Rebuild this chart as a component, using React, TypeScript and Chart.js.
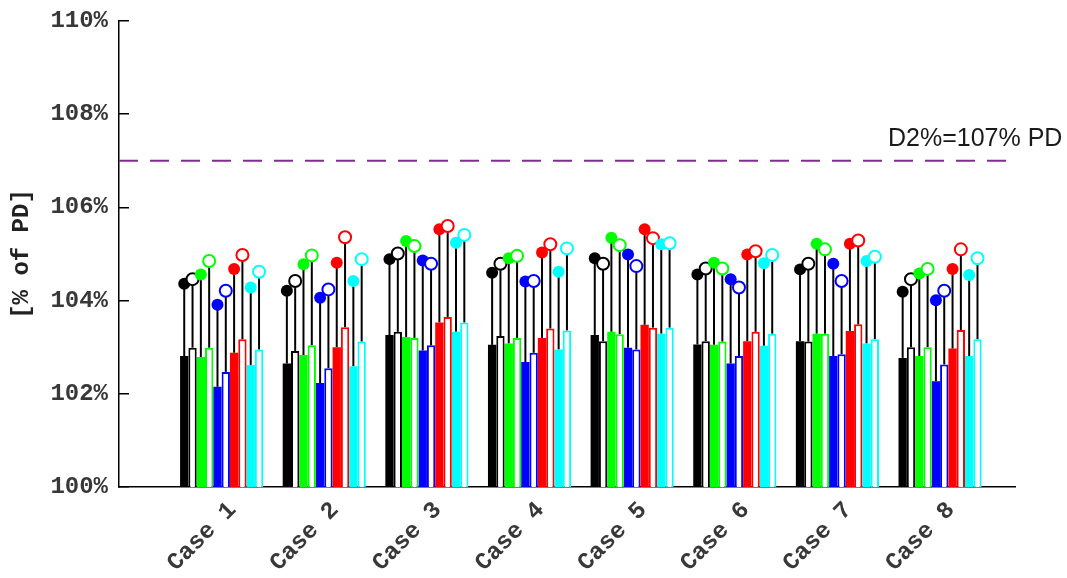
import React, { useEffect, useRef } from 'react';
import { Chart, registerables } from 'chart.js';

Chart.register(...registerables);

// ---------- data ----------
const caseLabels = ['Case 1', 'Case 2', 'Case 3', 'Case 4', 'Case 5', 'Case 6', 'Case 7', 'Case 8'];
const casePositions = [1, 2, 3, 4, 5, 6, 7, 8];
const xAxisMin = 0;
const xAxisMax = 8.73;
const yAxisMin = 100;
const yAxisMax = 110;
const yTickStep = 2;

const thresholdValue = 107;
const thresholdLabel = 'D2%=107% PD';

// bar heights (% of PD)
const blackSolidBar = [102.81, 102.65, 103.26, 103.05, 103.26, 103.06, 103.13, 102.77];
const blackOpenBar = [102.99, 102.92, 103.33, 103.24, 103.13, 103.13, 103.12, 103.0];
const greenSolidBar = [102.79, 102.83, 103.22, 103.08, 103.33, 103.05, 103.29, 102.81];
const greenOpenBar = [102.99, 103.04, 103.2, 103.2, 103.28, 103.12, 103.29, 103.0];
const blueSolidBar = [102.15, 102.23, 102.93, 102.68, 102.99, 102.65, 102.81, 102.27];
const blueOpenBar = [102.47, 102.55, 103.04, 102.88, 102.95, 102.81, 102.85, 102.63];
const redSolidBar = [102.88, 103.0, 103.53, 103.2, 103.48, 103.13, 103.35, 102.97];
const redOpenBar = [103.17, 103.43, 103.65, 103.4, 103.42, 103.33, 103.49, 103.37];
const cyanSolidBar = [102.62, 102.59, 103.33, 102.95, 103.29, 103.03, 103.08, 102.81];
const cyanOpenBar = [102.95, 103.12, 103.53, 103.36, 103.42, 103.29, 103.17, 103.17];

// maxima (circle markers)
const blackSolidMax = [104.36, 104.21, 104.89, 104.6, 104.91, 104.56, 104.67, 104.19];
const blackOpenMax = [104.46, 104.42, 105.01, 104.79, 104.79, 104.69, 104.79, 104.46];
const greenSolidMax = [104.56, 104.78, 105.28, 104.91, 105.35, 104.81, 105.22, 104.58];
const greenOpenMax = [104.85, 104.97, 105.17, 104.96, 105.19, 104.69, 105.1, 104.68];
const blueSolidMax = [103.91, 104.06, 104.86, 104.41, 104.99, 104.46, 104.79, 104.01];
const blueOpenMax = [104.21, 104.24, 104.79, 104.42, 104.74, 104.28, 104.42, 104.21];
const redSolidMax = [104.68, 104.81, 105.53, 105.03, 105.53, 104.99, 105.22, 104.68];
const redOpenMax = [104.98, 105.36, 105.6, 105.21, 105.34, 105.06, 105.29, 105.1];
const cyanSolidMax = [104.28, 104.42, 105.24, 104.62, 105.21, 104.8, 104.85, 104.55];
const cyanOpenMax = [104.62, 104.89, 105.41, 105.12, 105.23, 104.98, 104.94, 104.91];

const barSeries = [
  blackSolidBar, blackOpenBar, greenSolidBar, greenOpenBar, blueSolidBar,
  blueOpenBar, redSolidBar, redOpenBar, cyanSolidBar, cyanOpenBar,
];
const maxSeries = [
  blackSolidMax, blackOpenMax, greenSolidMax, greenOpenMax, blueSolidMax,
  blueOpenMax, redSolidMax, redOpenMax, cyanSolidMax, cyanOpenMax,
];

// ---------- styles ----------
const seriesColors = [
  '#000000', '#000000', '#00ff00', '#00ff00', '#0000ff',
  '#0000ff', '#ff0000', '#ff0000', '#00ffff', '#00ffff',
];
const seriesFilled = [true, false, true, false, true, false, true, false, true, false];

const TEXT_COLOR = '#383838';
const MONO = '"Liberation Mono", "DejaVu Sans Mono", monospace';
const CAT_PCT = 0.81;
const N = barSeries.length;

const markerPlugin = {
  id: 'maxMarkers',
  afterDatasetsDraw(chart: any) {
    const ctx = chart.ctx;
    const yScale = chart.scales.y;
    ctx.save();
    for (let si = 0; si < N; si++) {
      const meta = chart.getDatasetMeta(N + si);
      meta.data.forEach((el: any, i: number) => {
        const px = el.x;
        const py = yScale.getPixelForValue(maxSeries[si][i]);
        ctx.beginPath();
        ctx.arc(px, py, 6, 0, Math.PI * 2);
        if (seriesFilled[si]) {
          ctx.fillStyle = seriesColors[si];
          ctx.fill();
        } else {
          ctx.fillStyle = '#ffffff';
          ctx.fill();
          ctx.lineWidth = 2;
          ctx.strokeStyle = seriesColors[si];
          ctx.stroke();
        }
      });
    }
    ctx.restore();
  },
};

const labelPlugin = {
  id: 'thresholdText',
  afterDraw(chart: any) {
    const ctx = chart.ctx;
    const yScale = chart.scales.y;
    const area = chart.chartArea;
    ctx.save();
    ctx.font = '25px "Liberation Sans", Arial, sans-serif';
    ctx.fillStyle = '#1a1a1a';
    ctx.textAlign = 'left';
    ctx.textBaseline = 'alphabetic';
    ctx.fillText(thresholdLabel, area.right - 127, yScale.getPixelForValue(thresholdValue) - 15);
    ctx.restore();
  },
};

export default function App() {
  const canvasRef = useRef<HTMLCanvasElement | null>(null);

  useEffect(() => {
    if (!canvasRef.current) return;

    const barDatasets = barSeries.map((vals, si) => ({
      type: 'bar' as const,
      label: 'bar' + si,
      data: vals.map((v, i) => ({ x: casePositions[i], y: v })),
      backgroundColor: seriesFilled[si] ? seriesColors[si] : '#ffffff',
      borderColor: seriesColors[si],
      borderWidth: seriesFilled[si] ? 0 : 2,
      stack: 's' + si,
      barPercentage: 1,
      categoryPercentage: CAT_PCT,
    }));

    const stemDatasets = barSeries.map((vals, si) => ({
      type: 'bar' as const,
      label: 'stem' + si,
      data: vals.map((v, i) => ({ x: casePositions[i], y: [v, maxSeries[si][i]] })),
      backgroundColor: '#000000',
      borderWidth: 0,
      stack: 's' + si,
      barPercentage: 0.24,
      categoryPercentage: CAT_PCT,
    }));

    const thresholdDataset = {
      type: 'line' as const,
      label: 'threshold',
      data: [
        { x: xAxisMin, y: thresholdValue },
        { x: xAxisMax, y: thresholdValue },
      ],
      borderColor: '#7e2f8e',
      borderWidth: 2,
      borderDash: [19, 12],
      pointRadius: 0,
      fill: false,
    };

    const chart = new Chart(canvasRef.current, {
      type: 'bar',
      data: { datasets: [...barDatasets, ...stemDatasets, thresholdDataset] as any },
      options: {
        responsive: false,
        animation: false,
        devicePixelRatio: 1,
        layout: { padding: { top: 21, right: 52, bottom: 0, left: 0 } },
        plugins: {
          legend: { display: false },
          tooltip: { enabled: false },
        },
        scales: {
          x: {
            type: 'linear',
            min: xAxisMin,
            max: xAxisMax,
            offset: false,
            grid: { display: false, drawTicks: false },
            border: { display: true, color: '#000000', width: 1.5 },
            afterBuildTicks: (axis: any) => {
              axis.ticks = casePositions.map((v) => ({ value: v }));
            },
            afterFit: (axis: any) => {
              axis.height = 91;
              axis.paddingLeft = 0;
              axis.paddingRight = 0;
            },
            ticks: {
              autoSkip: false,
              minRotation: 45,
              maxRotation: 45,
              labelOffset: 11,
              padding: 9,
              color: TEXT_COLOR,
              font: { family: MONO, size: 24, weight: 'bold' },
              callback: (_v: any, i: number) => caseLabels[i],
            },
          },
          y: {
            type: 'linear',
            min: yAxisMin,
            max: yAxisMax,
            stacked: false,
            grid: {
              display: true,
              drawOnChartArea: false,
              drawTicks: true,
              tickLength: -10,
              color: '#000000',
              lineWidth: 1.5,
            },
            border: { display: true, color: '#000000', width: 1.5 },
            afterFit: (axis: any) => {
              axis.width = 119;
              axis.paddingTop = 0;
              axis.paddingBottom = 0;
            },
            ticks: {
              stepSize: yTickStep,
              padding: 21,
              color: TEXT_COLOR,
              font: { family: MONO, size: 24, weight: 'bold' },
              callback: (v: any) => v + '%',
            },
            title: {
              display: true,
              text: '[% of PD]',
              color: '#222222',
              font: { family: MONO, size: 24, weight: 'bold' },
              padding: { top: 8, bottom: 0 },
            },
          },
        },
      } as any,
      plugins: [markerPlugin, labelPlugin],
    });

    return () => chart.destroy();
  }, []);

  return (
    <div style={{ position: 'absolute', left: 0, top: 0, width: 1067, height: 578, background: '#ffffff' }}>
      <canvas ref={canvasRef} width={1067} height={578} style={{ display: 'block', width: 1067, height: 578 }} />
    </div>
  );
}
